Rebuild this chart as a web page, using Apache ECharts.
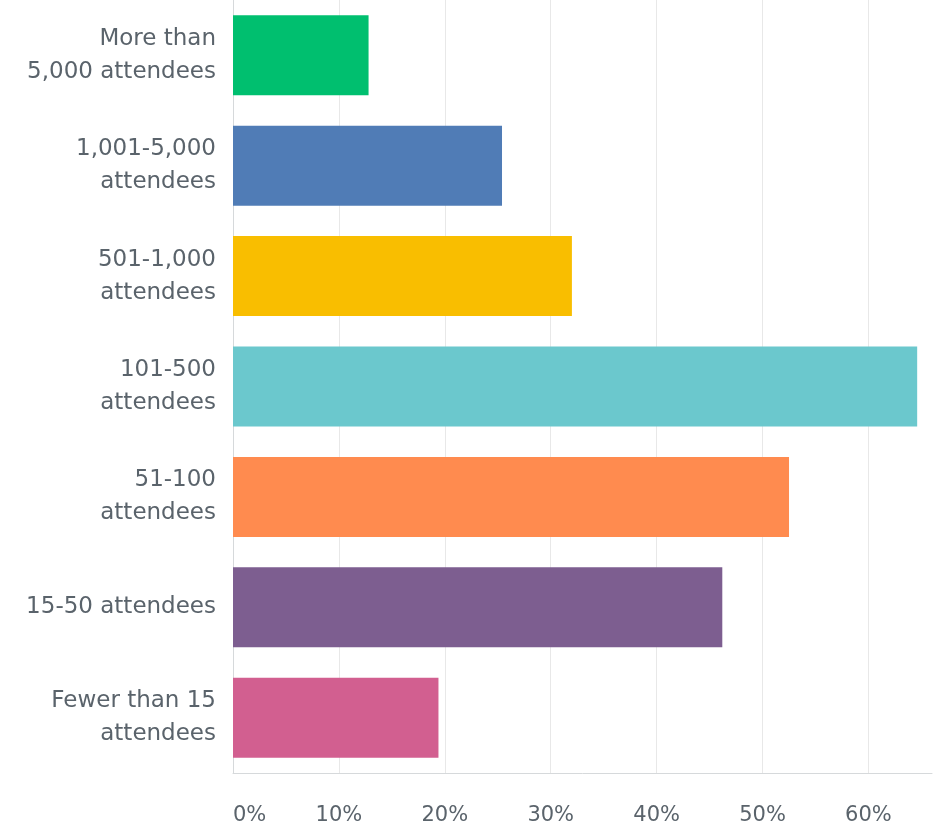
<!DOCTYPE html>
<html>
<head>
<meta charset="utf-8">
<script src="https://cdn.jsdelivr.net/npm/echarts@6/dist/echarts.min.js"></script>
<style>
  html, body { margin: 0; padding: 0; background: #fff; }
  #chart { width: 938px; height: 829px; }
</style>
</head>
<body>
<div id="chart"></div>
<script>
// categories top to bottom
var categories = [
  'More than\n5,000 attendees',
  '1,001-5,000\nattendees',
  '501-1,000\nattendees',
  '101-500\nattendees',
  '51-100\nattendees',
  '15-50 attendees',
  'Fewer than 15\nattendees'
];
var values = [12.8, 25.4, 32.0, 64.6, 52.5, 46.2, 19.4];
var barColors = ['#00bf6f', '#507cb6', '#f9be00', '#6bc8cd', '#ff8b4f', '#7d5e90', '#d25f90'];
var axisMax = 66;

var myChart = echarts.init(document.getElementById('chart'));
var option = {
  animation: false,
  grid: { left: 233, right: 6, top: -2, bottom: 56, containLabel: false },
  xAxis: {
    type: 'value',
    min: 0,
    max: axisMax,
    interval: 10,
    axisLine: { show: true, lineStyle: { color: '#d6d9db', width: 1 } },
    axisTick: { show: false },
    splitLine: {
      show: true,
      // lines at 0..60 plus the extent end (66), which stays hidden
      lineStyle: { color: ['#e8e8e8', '#e8e8e8', '#e8e8e8', '#e8e8e8', '#e8e8e8', '#e8e8e8', '#e8e8e8', 'rgba(0,0,0,0)'], width: 1 }
    },
    axisLabel: {
      margin: 32,
      color: '#5a636b',
      fontSize: 21,
      fontFamily: '"DejaVu Sans", sans-serif',
      alignMinLabel: 'left',
      formatter: function (v) { return v % 10 === 0 ? v + '%' : ''; }
    }
  },
  yAxis: {
    type: 'category',
    inverse: true,
    data: categories,
    axisLine: { show: true, lineStyle: { color: '#d6d9db', width: 1 } },
    axisTick: { show: false },
    axisLabel: {
      margin: 17,
      color: '#5a636b',
      fontSize: 23,
      lineHeight: 33,
      align: 'right',
      fontFamily: '"DejaVu Sans", sans-serif'
    }
  },
  series: [{
    type: 'bar',
    barWidth: 80,
    data: values.map(function (v, i) {
      return { value: v, itemStyle: { color: barColors[i] } };
    })
  }]
};
myChart.setOption(option);
</script>
</body>
</html>
